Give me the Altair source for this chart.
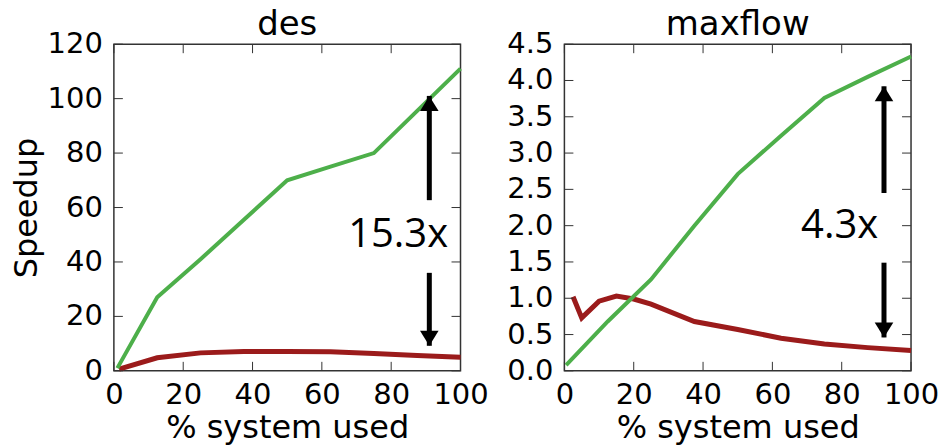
import altair as alt
import pandas as pd

# ---- data ----
des_green_x = [1, 12.5, 25, 37.5, 50, 62.5, 75, 87.5, 100]
des_green_y = [1, 27, 41, 55.5, 70, 75, 80, 95.5, 111]
des_red_x = [1.5, 12.5, 25, 37.5, 50, 62.5, 75, 87.5, 100]
des_red_y = [0.6, 4.8, 6.6, 7.1, 7.1, 7.0, 6.4, 5.6, 5.0]

mf_green_x = [0.5, 12.5, 25, 37.5, 50, 62.5, 75, 87.5, 100]
mf_green_y = [0.08, 0.68, 1.26, 2.0, 2.71, 3.24, 3.76, 4.05, 4.33]
mf_red_x = [2.5, 5, 10, 15, 20, 25, 37.5, 50, 62.5, 75, 87.5, 100]
mf_red_y = [1.02, 0.73, 0.96, 1.03, 0.99, 0.92, 0.68, 0.57, 0.45, 0.37, 0.32, 0.28]

x_ticks = [0, 20, 40, 60, 80, 100]
des_y_ticks = [0, 20, 40, 60, 80, 100, 120]
des_y_labels = ["0", "20", "40", "60", "80", "100", "120"]
mf_y_ticks = [0, 0.5, 1.0, 1.5, 2.0, 2.5, 3.0, 3.5, 4.0, 4.5]
mf_y_labels = ["0.0", "0.5", "1.0", "1.5", "2.0", "2.5", "3.0", "3.5", "4.0", "4.5"]

# annotation: x, upper arrow (tip, tail), lower arrow (tail, tip), label, label position
des_annot = dict(x=91, up_tip=101, up_tail=62.7, dn_tail=36, dn_tip=9.2,
                 label="15.3x", lx=82, ly=50)
mf_annot = dict(x=92.2, up_tip=3.92, up_tail=2.45, dn_tail=1.49, dn_tip=0.46,
                label="4.3x", lx=79.4, ly=2.0)

GREEN = "#4daf4a"
RED = "#9b1b1b"
W, H = 347, 327
TICK = 9
LABEL_FONT = "DejaVu Sans"
LABEL_SIZE = 29

UP_HEAD = "M0,0 L-0.62,1 L0.62,1 Z"
DOWN_HEAD = "M0,0 L-0.62,-1 L0.62,-1 Z"


def panel(title, gx, gy, rx, ry, yticks, ylabels, ymax, ann, ytitle):
    xs = alt.Scale(domain=[0, 100], nice=False, zero=False)
    ys = alt.Scale(domain=[0, ymax], nice=False, zero=False)
    green = pd.DataFrame({"x": gx, "y": gy})
    red = pd.DataFrame({"x": rx, "y": ry})

    xenc = alt.X("x:Q", scale=xs,
                 axis=alt.Axis(values=x_ticks, title="% system used", format="d",
                               labelOverlap=False, labelFlush=False))
    if ytitle:
        yaxis = alt.Axis(values=yticks, labels=False, title=ytitle, titlePadding=70)
    else:
        yaxis = None
    yenc = alt.Y("y:Q", scale=ys, axis=yaxis)

    red_line = alt.Chart(red).mark_line(color=RED, strokeWidth=5).encode(x=xenc, y=yenc)
    green_line = alt.Chart(green).mark_line(color=GREEN, strokeWidth=4).encode(x="x:Q", y="y:Q")

    xt = pd.DataFrame({"x": x_ticks})
    yt = pd.DataFrame({"y": yticks, "label": ylabels})
    tick_style = dict(color="#333", strokeWidth=1)
    bt = alt.Chart(xt).mark_rule(**tick_style).encode(
        x="x:Q", y=alt.value(H), y2=alt.value(H - TICK))
    tt = alt.Chart(xt).mark_rule(**tick_style).encode(
        x="x:Q", y=alt.value(0), y2=alt.value(TICK))
    lt = alt.Chart(yt).mark_rule(**tick_style).encode(
        y="y:Q", x=alt.value(0), x2=alt.value(TICK))
    rt = alt.Chart(yt).mark_rule(**tick_style).encode(
        y="y:Q", x=alt.value(W), x2=alt.value(W - TICK))
    ylab = alt.Chart(yt).mark_text(
        font=LABEL_FONT, fontSize=LABEL_SIZE, color="black", align="right", baseline="middle"
    ).encode(y="y:Q", x=alt.value(-11), text="label:N")

    shafts = pd.DataFrame({
        "x": [ann["x"], ann["x"]],
        "y": [ann["up_tail"], ann["dn_tip"]],
        "y2": [ann["up_tip"], ann["dn_tail"]],
    })
    shaft = alt.Chart(shafts).mark_rule(color="black", strokeWidth=5).encode(
        x="x:Q", y="y:Q", y2="y2:Q")
    up = alt.Chart(pd.DataFrame({"x": [ann["x"]], "y": [ann["up_tip"]]})).mark_point(
        shape=UP_HEAD, filled=True, color="black", size=900, opacity=1).encode(x="x:Q", y="y:Q")
    dn = alt.Chart(pd.DataFrame({"x": [ann["x"]], "y": [ann["dn_tip"]]})).mark_point(
        shape=DOWN_HEAD, filled=True, color="black", size=900, opacity=1).encode(x="x:Q", y="y:Q")
    txt = alt.Chart(pd.DataFrame({"x": [ann["lx"]], "y": [ann["ly"]], "t": [ann["label"]]})).mark_text(
        font="Open Sans", fontSize=40, color="black", align="center", baseline="middle").encode(
        x="x:Q", y="y:Q", text="t:N")

    return alt.layer(red_line, green_line, bt, tt, lt, rt, ylab, shaft, up, dn, txt).properties(
        width=W, height=H, title=alt.TitleParams(title, frame="group", offset=-12))


left = panel("des", des_green_x, des_green_y, des_red_x, des_red_y,
             des_y_ticks, des_y_labels, 120, des_annot, "Speedup")
right = panel("maxflow", mf_green_x, mf_green_y, mf_red_x, mf_red_y,
              mf_y_ticks, mf_y_labels, 4.5, mf_annot, None)

chart = alt.hconcat(left, right, spacing=104, bounds="flush").configure_view(
    stroke="#333", strokeWidth=1.5
).configure_axis(
    domain=False, ticks=False, grid=False,
    labelFont=LABEL_FONT, labelFontSize=LABEL_SIZE, labelColor="black",
    labelPadding=10, labelFlush=False, labelOverlap=False,
    titleFont="DejaVu Sans", titleFontSize=32, titleColor="black",
    titleFontWeight="normal",
).configure_axisX(titlePadding=3).configure_axisY(titleFontSize=32).configure_title(
    font="DejaVu Sans", fontSize=34, fontWeight="normal", color="black"
).properties(padding={"left": 10, "top": 7, "right": 0, "bottom": 0})

chart.save("out.html", embed_options={"renderer": "svg", "actions": False})
